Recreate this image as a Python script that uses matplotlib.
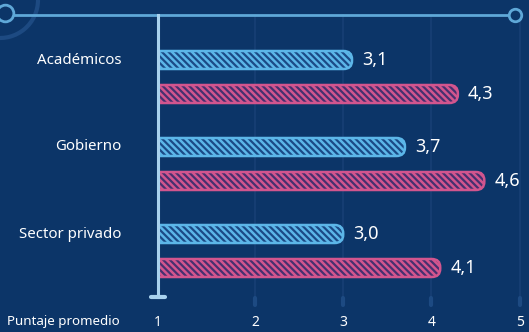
import numpy as np
import matplotlib
matplotlib.use("Agg")
import matplotlib.pyplot as plt
from matplotlib.patches import FancyBboxPatch, Rectangle, Arc

plt.rcParams['font.family'] = ['Noto Sans', 'DejaVu Sans']
plt.rcParams['hatch.linewidth'] = 1.8

categories = ["Académicos", "Gobierno", "Sector privado"]
blue_vals = [3.1, 3.7, 3.0]
pink_vals = [4.3, 4.6, 4.1]
xticks = [1, 2, 3, 4, 5]
xlabel = "Puntaje promedio"

BG = "#0c3568"
BLUE_EDGE = "#5cb6e8"
BLUE_FACE = "#1b4a86"
PINK_EDGE = "#d2558e"
PINK_FACE = "#46306f"
LINE = "#5fa8d8"
GRID = "#173f75"

W, H = 529, 332
fig = plt.figure(figsize=(W / 100, H / 100), dpi=100, facecolor=BG)
ax = fig.add_axes([0, 0, 1, 1])
ax.set_facecolor(BG)
ax.axis("off")

# pixel geometry -> data scale
px_x = 88.2           # pixels per score unit
x1_px = 166.8         # pixel where score 1 sits
px_y = 87.0           # pixels per category step
y0_px = 60            # pixel where first category sits
ax.set_xlim(1 - x1_px / px_x, 1 + (W - x1_px) / px_x)
ax.set_ylim((H - y0_px) / px_y, -y0_px / px_y)

def py(p):
    return (p - y0_px) / px_y

def pxx(p):
    return 1 + (p - x1_px) / px_x

axis_x = pxx(158)     # the baseline sits a little left of score 1

ypos = np.arange(len(categories))
off = 34 / px_y
bh = 18 / px_y
r = 8.5 / px_x
aspect = px_x / px_y

# grid lines
for t in xticks[1:]:
    ax.plot([t, t], [py(15), py(297)], color=GRID, lw=1.2, zorder=1)
    ax.plot([t, t], [py(298), py(305)], color="#1d4a82", lw=3, zorder=1,
            solid_capstyle="round")

clip = Rectangle((axis_x, py(0)), 10, py(H) - py(0), transform=ax.transData)

def rbar(y, v, face, edge):
    p = FancyBboxPatch((axis_x - r, y - bh / 2), v - axis_x + r, bh,
                       boxstyle=f"round,pad=0,rounding_size={r}",
                       mutation_aspect=1 / aspect,
                       facecolor=face, edgecolor=edge, lw=1.8,
                       hatch="\\\\\\\\\\", zorder=3)
    ax.add_patch(p)
    p.set_clip_path(clip)
    ax.text(v + 10 / px_x, y, f"{v:.1f}".replace(".", ","), color="white",
            fontsize=13, va="center", ha="left", zorder=5)

for i, cat in enumerate(categories):
    rbar(ypos[i], blue_vals[i], BLUE_FACE, BLUE_EDGE)
    rbar(ypos[i] + off, pink_vals[i], PINK_FACE, PINK_EDGE)
    ax.text(pxx(121), ypos[i], cat, color="white", fontsize=10.8,
            ha="right", va="center")

# top line with end circles
ax.add_patch(Arc((pxx(0), py(0)), 76 / px_x, 76 / px_y, theta1=0, theta2=100,
                 color="#1d4a82", lw=3, zorder=2))
ax.plot([pxx(0), pxx(510)], [py(15), py(15)], color=LINE, lw=2, zorder=4)
ax.plot([pxx(515)], [py(15)], marker="o", ms=9, mfc=BG, mec=LINE, mew=2, zorder=5)
ax.plot([pxx(5)], [py(13)], marker="o", ms=12, mfc=BG, mec=LINE, mew=2, zorder=5)

# vertical axis with cap
ax.plot([axis_x, axis_x], [py(15), py(297)], color="#a9d2ee", lw=2.2, zorder=6)
ax.plot([pxx(151), pxx(165)], [py(297), py(297)], color="#a9d2ee", lw=3,
        zorder=6, solid_capstyle="round")

# bottom labels
for t in xticks:
    lx = axis_x if t == 1 else t
    ax.text(lx, py(322), str(t), color="white", fontsize=10, ha="center", va="center")
ax.text(pxx(7), py(322), xlabel, color="white", fontsize=9.6, ha="left", va="center")

fig.savefig("out.png", dpi=100, facecolor=BG)
